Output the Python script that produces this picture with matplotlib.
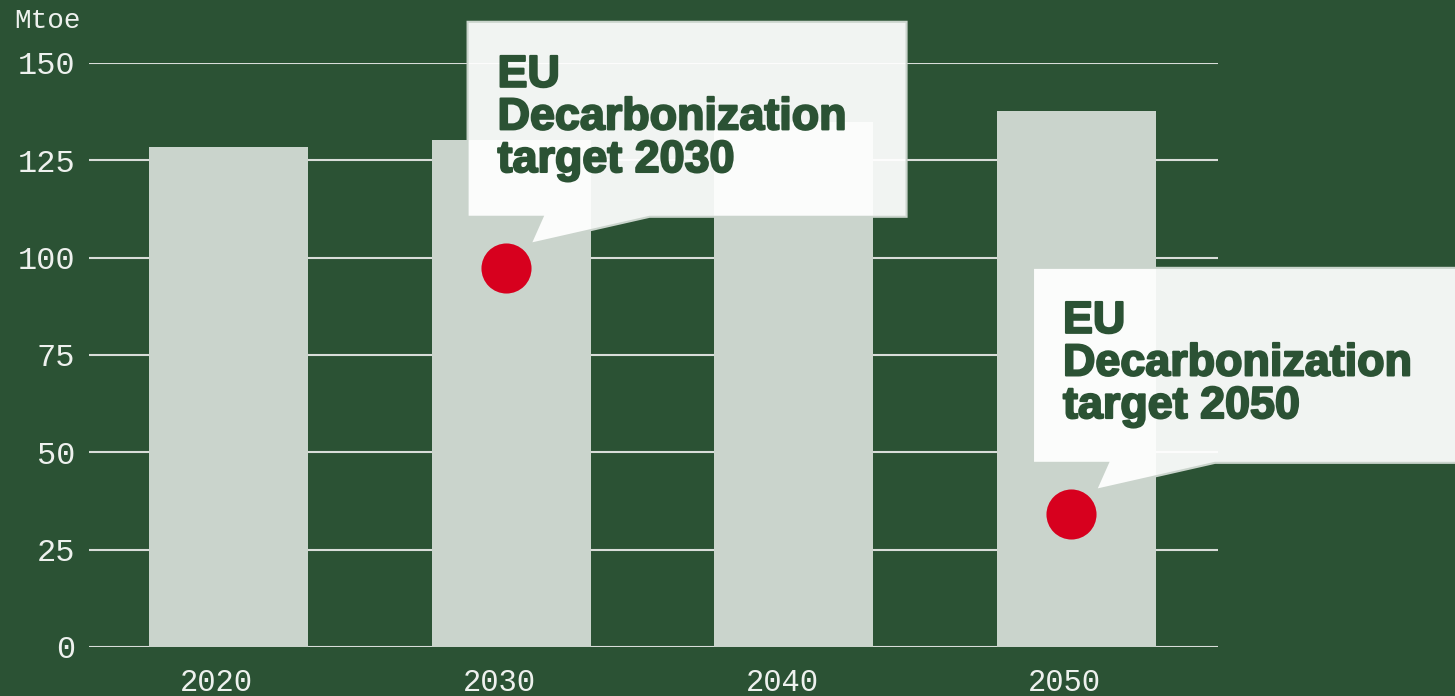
import matplotlib
matplotlib.use("Agg")
import matplotlib.pyplot as plt
from matplotlib.patches import Polygon
import matplotlib.transforms as mtransforms
import matplotlib.patheffects as pe

# Data
years = ["2020", "2030", "2040", "2050"]
consumption = [128.4, 130.2, 134.9, 137.7]      # Mtoe
target_years = ["2030", "2050"]
target_values = [97.4, 34.2]                    # Mtoe
target_labels = ["EU\nDecarbonization\ntarget 2030",
                 "EU\nDecarbonization\ntarget 2050"]
y_ticks = [0, 25, 50, 75, 100, 125, 150]

BG = "#2b5234"
BAR = "#cad4cc"
GRID = "#d9ddd9"
TICK = "#eef1ee"
RED = "#d7001e"
DARK = "#2b5234"
MONO = "Liberation Mono"

W, H = 1455, 696
fig = plt.figure(figsize=(W / 100, H / 100), dpi=100, facecolor=BG)
ax = fig.add_axes([89 / W, 1 - 647 / H, (1218 - 89) / W, (647 - 63) / H])
ax.set_facecolor(BG)

x = list(range(len(years)))
ax.bar(x, consumption, width=0.5625, color=BAR, zorder=2)

ax.set_xlim(-0.4935, 3.5)
ax.set_ylim(0, 150)
ax.set_yticks(y_ticks)
ax.set_yticklabels([str(v) for v in y_ticks], fontfamily=MONO,
                   fontsize=23, color=TICK)
ax.set_xticks(x)
ax.set_xticklabels(years, fontfamily=MONO, fontsize=22, color=TICK)
ax.tick_params(axis="y", length=0, pad=10)
ax.tick_params(axis="x", length=0, pad=15)
# year labels sit a little left of the bar centres
shift = mtransforms.ScaledTranslation(-12 / 100, 0, fig.dpi_scale_trans)
for lab in ax.get_xticklabels():
    lab.set_transform(lab.get_transform() + shift)
ax.grid(axis="y", color=GRID, linewidth=1.5, zorder=1)
for s in ax.spines.values():
    s.set_visible(False)

fig.text(14 / W, 1 - 28 / H, "Mtoe", fontfamily=MONO, fontsize=20,
         color=TICK, ha="left", va="baseline")

# Target markers with speech-bubble callouts
for yr, val, label in zip(target_years, target_values, target_labels):
    xi = years.index(yr) - 0.02
    ax.scatter([xi], [val], s=1300, color=RED, zorder=5, linewidths=0)
    # pixel offsets from the marker (y grows downwards)
    to_disp = (mtransforms.Affine2D().scale(1, -1)
               + mtransforms.ScaledTranslation(xi, val, ax.transData))
    L, R, T, B = -38, 401, -246, -51
    bubble = [(L, T), (R, T), (R, B), (144, B), (25, -24), (37, B), (L, B)]
    poly = Polygon(bubble, closed=True, transform=to_disp,
                   facecolor=(1, 1, 1, 0.94), edgecolor=BAR,
                   linewidth=1.5, zorder=6, clip_on=False)
    ax.add_patch(poly)
    txt = ax.text(-8, -213, label, transform=to_disp,
                  fontfamily="Liberation Sans", fontweight="bold",
                  fontsize=32.3, color=DARK, ha="left", va="top",
                  linespacing=1.05, zorder=7, clip_on=False)
    txt.set_path_effects([pe.withStroke(linewidth=1.5, foreground=DARK)])

fig.savefig("out.png", dpi=100, facecolor=BG)
